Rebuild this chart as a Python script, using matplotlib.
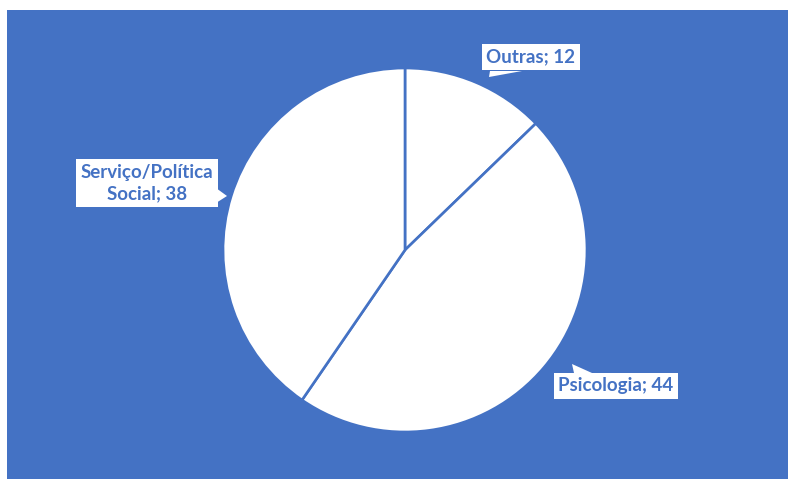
import matplotlib
matplotlib.use("Agg")
import matplotlib.pyplot as plt
from matplotlib.patches import Rectangle, Polygon

categories = ["Outras", "Psicologia", "Serviço/Política\nSocial"]
values = [12, 44, 38]

BLUE = "#4472C4"
W, H = 788, 479

fig = plt.figure(figsize=(W / 100, H / 100), dpi=100)
fig.patch.set_facecolor("white")
ax = fig.add_axes([0, 0, 1, 1])

def py(y):
    return H - y

ax.add_patch(Rectangle((7, 0), W - 7, H - 10, facecolor=BLUE, edgecolor="none", zorder=0))

ax.pie(values, startangle=90, counterclock=False, center=(405, py(250)), radius=182,
       colors=["white"] * len(values),
       wedgeprops=dict(edgecolor=BLUE, linewidth=1.9, zorder=2))

ax.set_xlim(0, W)
ax.set_ylim(0, H)
ax.set_aspect("equal")
ax.axis("off")

label_pos = {"Outras": (531, 57), "Psicologia": (616, 386), "Serviço/Política\nSocial": (147, 183)}
tails = {
    "Outras": [(490, 71), (522, 71), (489, 77)],
    "Psicologia": [(574, 373), (592, 373), (572, 364)],
    "Serviço/Política\nSocial": [(216, 188), (227, 196), (216, 203)],
}
for cat, v in zip(categories, values):
    x, y = label_pos[cat]
    ax.text(x, py(y), f"{cat}; {v}", ha="center", va="center", fontsize=13.5,
            fontweight="bold", family=["Lato", "DejaVu Sans"], color=BLUE,
            linespacing=1.3, zorder=5,
            bbox=dict(boxstyle="square,pad=0.25", facecolor="white", edgecolor="none"))
    ax.add_patch(Polygon([(a, py(b)) for a, b in tails[cat]], closed=True,
                         facecolor="white", edgecolor="none", zorder=4))

fig.savefig("out.png", dpi=100, facecolor="white")
